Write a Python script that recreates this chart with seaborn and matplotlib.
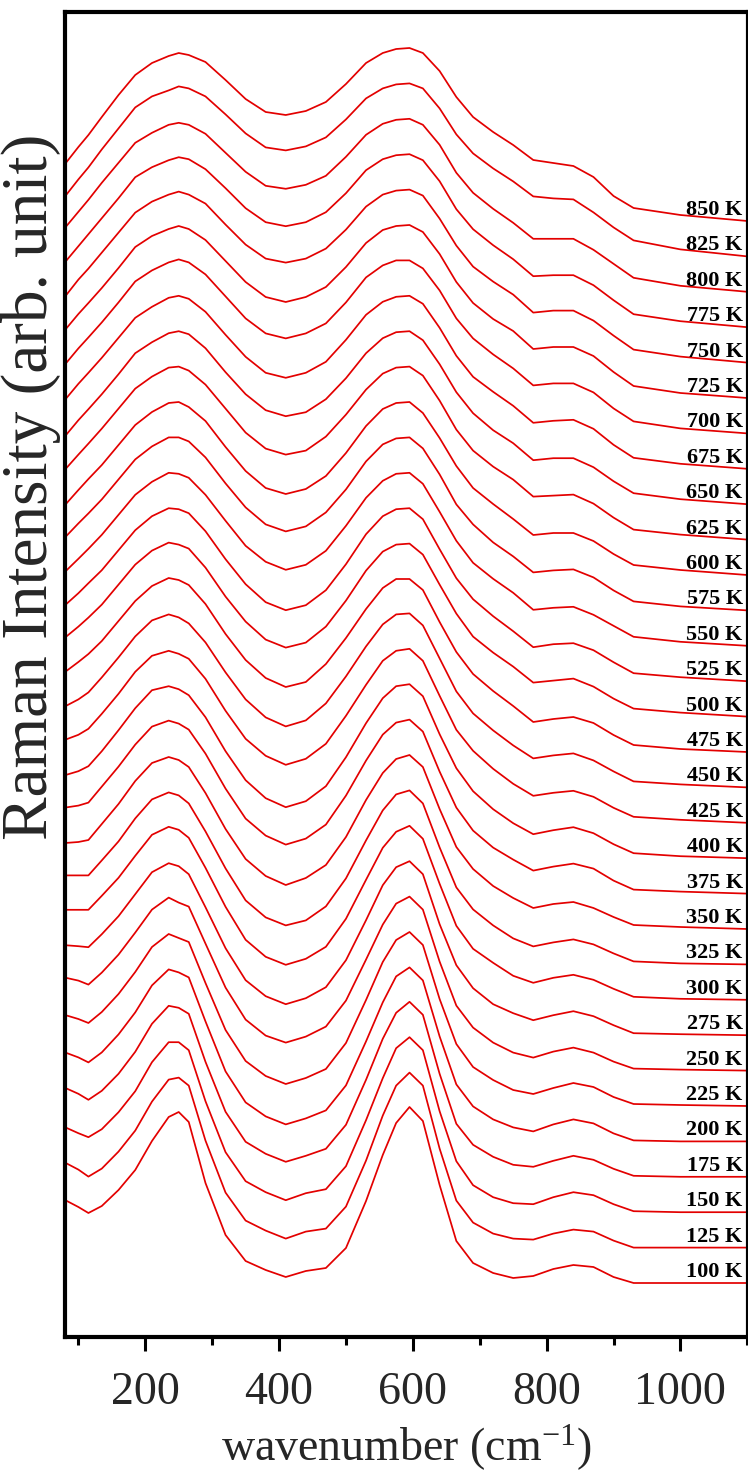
import matplotlib
matplotlib.use("Agg")
import matplotlib.pyplot as plt
from matplotlib.ticker import MultipleLocator
import pandas as pd
import seaborn as sns

# Raman shift grid (cm^-1) shared by every spectrum
wavenumber = [80, 100, 115, 135, 160, 185, 210, 235, 250, 265, 290, 320, 350,
              380, 410, 440, 470, 500, 530, 555, 575, 595, 615, 640, 665, 690,
              720, 750, 780, 810, 840, 870, 900, 930, 1000, 1100]

temperatures = [100, 125, 150, 175, 200, 225, 250, 275, 300, 325, 350, 375,
                400, 425, 450, 475, 500, 525, 550, 575, 600, 625, 650, 675,
                700, 725, 750, 775, 800, 825, 850]

# Normalised intensities (arb. unit), one spectrum per temperature
t100 = [83, 76, 70, 77, 93, 113, 142, 166, 171, 161, 100, 48, 22, 13, 6, 12, 15, 35, 82, 128, 160, 176, 162, 98, 42, 20, 10, 5, 7, 14, 18, 16, 6, 0, 0, 0]
t125 = [85, 78, 71, 79, 96, 117, 146, 168, 170, 162, 107, 55, 27, 17, 9, 16, 19, 41, 87, 132, 162, 175, 162, 99, 47, 25, 14, 9, 8, 14, 18, 16, 7, 0, 0, 0]
t150 = [85, 79, 75, 83, 100, 121, 150, 170, 170, 162, 111, 60, 31, 20, 12, 19, 23, 46, 92, 134, 164, 175, 162, 101, 51, 27, 15, 9, 8, 15, 20, 17, 8, 1, 0, 0]
t175 = [89, 83, 77, 86, 103, 125, 153, 171, 169, 163, 115, 65, 35, 23, 15, 21, 28, 52, 97, 138, 164, 175, 162, 103, 53, 32, 20, 12, 10, 16, 21, 17, 8, 1, 0, 0]
t200 = [89, 84, 79, 89, 107, 129, 156, 172, 169, 164, 120, 70, 39, 25, 17, 23, 31, 56, 100, 139, 165, 174, 161, 105, 57, 35, 22, 14, 10, 17, 22, 18, 8, 1, 0, 0]
t225 = [91, 87, 83, 94, 112, 134, 159, 172, 168, 164, 123, 76, 45, 30, 22, 28, 37, 63, 106, 144, 166, 174, 161, 107, 62, 39, 26, 16, 12, 18, 23, 19, 9, 2, 1, 0]
t250 = [93, 90, 86, 98, 116, 138, 161, 173, 168, 164, 127, 83, 51, 35, 28, 34, 44, 70, 111, 146, 167, 174, 161, 109, 65, 43, 28, 18, 13, 19, 23, 18, 9, 2, 1, 0]
t275 = [90, 89, 88, 101, 119, 141, 163, 172, 169, 161, 128, 87, 55, 39, 31, 37, 48, 75, 115, 150, 168, 174, 161, 111, 70, 47, 31, 22, 15, 20, 24, 19, 10, 2, 1, 0]
t300 = [90, 90, 90, 104, 122, 144, 165, 173, 170, 162, 132, 93, 60, 43, 35, 41, 53, 81, 120, 152, 168, 174, 161, 116, 74, 51, 37, 24, 17, 22, 25, 20, 11, 3, 1, 0]
t325 = [89, 89, 89, 104, 123, 146, 165, 172, 169, 161, 133, 96, 64, 47, 39, 44, 58, 86, 124, 154, 170, 174, 161, 117, 77, 55, 39, 26, 18, 22, 25, 20, 11, 3, 1, 0]
t350 = [86, 87, 89, 105, 125, 148, 166, 172, 169, 162, 136, 100, 70, 53, 44, 51, 64, 92, 129, 156, 170, 174, 162, 120, 82, 60, 43, 31, 21, 25, 27, 21, 12, 4, 2, 0]
t375 = [86, 88, 91, 107, 127, 149, 167, 173, 170, 164, 140, 105, 75, 58, 49, 55, 69, 98, 133, 159, 171, 174, 162, 122, 86, 63, 46, 34, 23, 27, 30, 25, 13, 4, 2, 0]
t400 = [83, 87, 92, 107, 128, 150, 168, 172, 169, 163, 141, 107, 78, 60, 51, 57, 72, 101, 135, 160, 172, 174, 162, 124, 90, 67, 49, 35, 24, 28, 31, 25, 14, 5, 2, 0]
t425 = [83, 88, 94, 109, 129, 151, 167, 172, 169, 164, 144, 112, 84, 67, 58, 64, 79, 107, 138, 162, 172, 174, 162, 127, 93, 72, 54, 39, 27, 30, 32, 26, 15, 6, 3, 0]
t450 = [81, 88, 95, 110, 130, 151, 167, 173, 170, 164, 145, 115, 88, 70, 61, 67, 84, 111, 141, 163, 173, 174, 162, 129, 96, 74, 57, 42, 29, 32, 34, 27, 16, 6, 3, 0]
t475 = [80, 90, 98, 111, 131, 151, 166, 174, 172, 167, 148, 118, 92, 74, 65, 70, 88, 114, 143, 164, 173, 173, 162, 130, 100, 78, 61, 46, 30, 33, 35, 29, 17, 7, 3, 0]
t500 = [79, 90, 99, 112, 132, 152, 166, 174, 172, 168, 149, 120, 95, 77, 69, 74, 90, 116, 146, 165, 172, 173, 162, 132, 103, 80, 64, 50, 34, 36, 38, 30, 18, 8, 4, 0]
t525 = [76, 88, 98, 111, 131, 151, 165, 173, 172, 168, 150, 122, 97, 79, 71, 76, 91, 117, 147, 165, 172, 173, 162, 132, 103, 82, 65, 50, 34, 37, 38, 31, 19, 8, 4, 0]
t550 = [74, 87, 97, 111, 131, 151, 164, 173, 172, 168, 151, 125, 100, 84, 76, 81, 95, 120, 148, 165, 172, 173, 162, 134, 105, 83, 67, 53, 36, 38, 39, 31, 20, 9, 4, 0]
t575 = [73, 87, 97, 111, 131, 151, 164, 173, 173, 169, 153, 127, 103, 86, 79, 84, 98, 121, 149, 166, 172, 173, 162, 136, 106, 86, 68, 54, 38, 40, 41, 33, 20, 9, 4, 0]
t600 = [70, 85, 96, 110, 130, 150, 163, 172, 173, 168, 154, 128, 104, 87, 81, 86, 99, 122, 149, 166, 172, 173, 162, 137, 109, 87, 71, 56, 40, 42, 42, 34, 21, 10, 5, 0]
t625 = [70, 85, 96, 111, 131, 151, 163, 172, 173, 169, 155, 131, 107, 91, 85, 89, 103, 125, 150, 166, 172, 173, 164, 139, 110, 89, 73, 60, 43, 44, 45, 36, 22, 10, 5, 0]
t650 = [68, 84, 95, 110, 130, 151, 162, 171, 173, 170, 156, 132, 110, 94, 88, 92, 105, 126, 151, 166, 172, 173, 164, 140, 112, 91, 74, 61, 44, 46, 46, 37, 23, 11, 5, 0]
t675 = [69, 85, 96, 111, 131, 151, 162, 171, 173, 170, 157, 134, 112, 96, 91, 96, 107, 129, 154, 167, 172, 173, 165, 141, 113, 92, 77, 63, 46, 48, 49, 40, 24, 11, 5, 0]
t700 = [69, 85, 96, 111, 131, 152, 163, 171, 174, 171, 159, 137, 115, 100, 95, 100, 110, 131, 156, 168, 173, 173, 165, 143, 115, 95, 79, 65, 48, 50, 50, 41, 25, 12, 5, 0]
t725 = [68, 84, 95, 110, 130, 151, 162, 169, 172, 169, 158, 137, 116, 101, 96, 101, 111, 131, 155, 168, 172, 173, 166, 144, 116, 95, 79, 67, 49, 51, 51, 42, 26, 12, 5, 0]
t750 = [66, 83, 94, 110, 130, 150, 161, 168, 171, 168, 159, 138, 118, 104, 100, 104, 114, 133, 156, 168, 172, 173, 167, 144, 117, 96, 81, 68, 50, 52, 52, 42, 27, 13, 6, 0]
t775 = [65, 81, 93, 109, 129, 150, 160, 167, 170, 168, 158, 139, 119, 105, 101, 105, 115, 134, 157, 168, 172, 173, 167, 146, 118, 98, 82, 68, 51, 52, 52, 42, 27, 13, 6, 0]
t800 = [64, 80, 92, 109, 129, 149, 159, 167, 169, 167, 158, 139, 120, 106, 103, 107, 116, 135, 157, 168, 172, 173, 167, 147, 119, 99, 83, 69, 53, 53, 53, 42, 28, 14, 6, 0]
t825 = [60, 77, 89, 107, 128, 149, 160, 166, 170, 168, 160, 142, 123, 109, 106, 110, 119, 137, 158, 168, 172, 173, 168, 148, 122, 103, 88, 75, 60, 58, 57, 44, 29, 16, 7, 0]
t850 = [57, 74, 86, 104, 126, 146, 158, 165, 168, 166, 159, 141, 122, 109, 106, 110, 119, 137, 158, 168, 172, 173, 168, 150, 124, 104, 89, 76, 61, 58, 55, 44, 25, 13, 6, 0]

spectra = [t100, t125, t150, t175, t200, t225, t250, t275, t300, t325, t350,
           t375, t400, t425, t450, t475, t500, t525, t550, t575, t600, t625,
           t650, t675, t700, t725, t750, t775, t800, t825, t850]

# vertical spacing between stacked spectra
offset = 35.4

rows = []
for i, (temp, spec) in enumerate(zip(temperatures, spectra)):
    for w, val in zip(wavenumber, spec):
        rows.append({"wavenumber": w, "intensity": val + i * offset,
                     "T": f"{temp} K"})
df = pd.DataFrame(rows)

sns.set_theme(style="ticks")
plt.rcParams["font.family"] = ["Liberation Serif", "DejaVu Serif"]
plt.rcParams["mathtext.fontset"] = "custom"
plt.rcParams["mathtext.rm"] = "Liberation Serif"
plt.rcParams["mathtext.it"] = "Liberation Serif:italic"

W, H = 748, 1473
fig = plt.figure(figsize=(W / 100, H / 100), dpi=100)
ax = fig.add_axes([65 / W, (H - 1337) / H, (W - 65) / W, (1337 - 12) / H])

red = "#e30000"
sns.lineplot(data=df, x="wavenumber", y="intensity", hue="T",
             palette=[red] * len(temperatures), legend=False,
             estimator=None, sort=False, linewidth=1.25, ax=ax)

for i, temp in enumerate(temperatures):
    ax.text(1093, i * offset + 11, f"{temp} K", ha="right", va="center",
            fontsize=16, fontweight="bold", color="black")

ax.set_xlim(80, 1101)
ax.set_ylim(-54, 1271)
ax.set_yticks([])
ax.xaxis.set_major_locator(MultipleLocator(200))
ax.xaxis.set_minor_locator(MultipleLocator(100))
ax.tick_params(axis="x", which="major", direction="out", length=10,
               width=2.2, labelsize=33, pad=15, color="black")
ax.tick_params(axis="x", which="minor", direction="out", length=5.5,
               width=2.2, color="black")

for side in ["left", "bottom", "top", "right"]:
    ax.spines[side].set_linewidth(3)
    ax.spines[side].set_color("black")

ax.set_xlabel("wavenumber (cm$^{-1}$)", fontsize=33, labelpad=6)
ax.set_ylabel("Raman Intensity (arb. unit)", fontsize=47)
ax.yaxis.set_label_coords(-4 / (W - 65), (1337 - 487) / (1337 - 12))

fig.savefig("out.png", dpi=100)
